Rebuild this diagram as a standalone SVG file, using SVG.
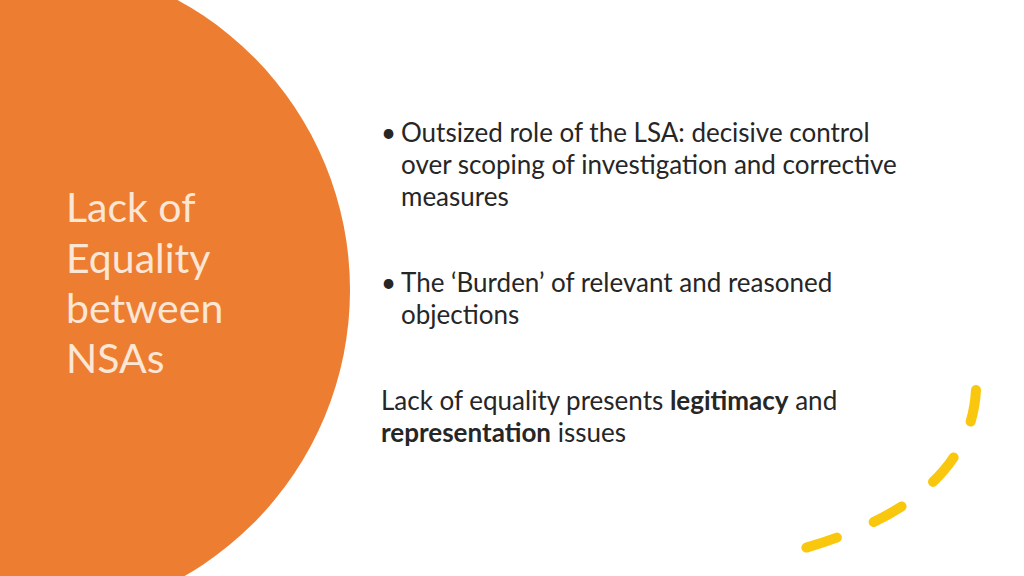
<svg xmlns="http://www.w3.org/2000/svg" width="1024" height="576" viewBox="0 0 1024 576">
<style>
.t{font-family:Lato,"Open Sans",sans-serif;font-size:26px;fill:#262626}
.h{font-family:Lato,"Open Sans",sans-serif;font-size:41px;fill:#FCE6D6}
</style>
<rect width="1024" height="576" fill="#fff"/>
<g id="circle"><circle cx="20" cy="290" r="330" fill="#ED7D31"/></g>
<g id="title">
<text class="h" x="66" y="222">Lack of</text>
<text class="h" x="66" y="273">Equality</text>
<text class="h" x="66" y="323">between</text>
<text class="h" x="66" y="373">NSAs</text>
</g>
<g id="body">
<text class="t" x="381" y="142">•</text>
<text class="t" x="401" y="142">Outsized role of the LSA: decisive control</text>
<text class="t" x="401" y="174">over scoping of investigation and corrective</text>
<text class="t" x="401" y="206">measures</text>
<text class="t" x="381" y="292">•</text>
<text class="t" x="401" y="292">The ‘Burden’ of relevant and reasoned</text>
<text class="t" x="401" y="324">objections</text>
<text class="t" x="381" y="410">Lack of equality presents <tspan font-weight="bold">legitimacy</tspan> and</text>
<text class="t" x="381" y="442"><tspan font-weight="bold">representation</tspan> issues</text>
</g>
<g id="arc">
<path d="M976,390 Q970,500 805,548" fill="none" stroke="#F9C80E" stroke-width="10" stroke-linecap="round" stroke-dasharray="32 40"/>
</g>
</svg>
